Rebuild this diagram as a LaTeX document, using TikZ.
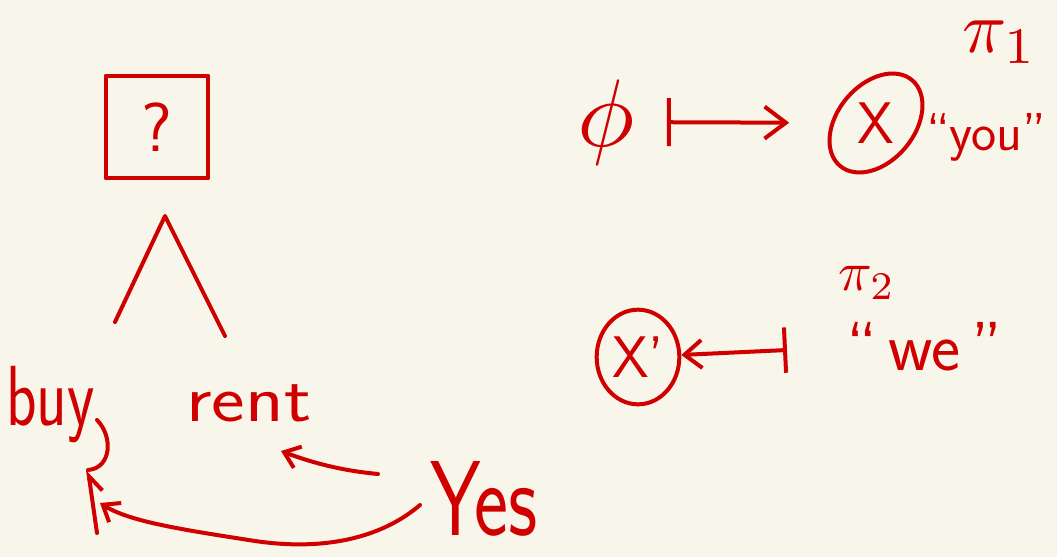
\documentclass[tikz,border=0pt]{standalone}
\usetikzlibrary{arrows.meta,shapes.geometric}
\definecolor{paper}{HTML}{F8F5EA}
\definecolor{ink}{HTML}{D00000}
\newcommand\penfont[1]{\fontsize{#1}{#1}\selectfont}
% math symbols are enlarged with \scalebox (CM math comes in fixed sizes)
\newcommand\bigmath[2]{\scalebox{#1}{$#2$}}
\begin{document}
\begin{tikzpicture}[x=0.75pt, y=-0.75pt, line cap=round, line join=round,
  pen/.style={draw=ink, line width=3pt},
  inkword/.style={text=ink, inner sep=0pt},
  ring/.style={draw=ink, line width=3pt, ellipse},
  smalltip/.style={-{Straight Barb[length=11pt,width=17pt]}},
]
% paper
\fill[paper] (0,0) rectangle (1057,557);
\useasboundingbox (0,0) rectangle (1057,557);

% ---- left: decision tree ----
\node[inkword, draw=ink, line width=3pt, minimum width=77pt, minimum height=77pt,
      font=\sffamily\penfont{52}] (query) at (157,127) {?};
\coordinate (apex)  at (165,216);
\coordinate (lleaf) at (115,322);
\coordinate (rleaf) at (225,336);
\draw[pen] (lleaf) -- (apex) -- (rleaf);

\node[inkword, anchor=base west, font=\sffamily\penfont{64}] (buy) at (6,425) {\scalebox{0.74}[1]{buy}};
\node[inkword, anchor=base west, font=\sffamily\penfont{50}] (rent) at (186,421) {\scalebox{1.2}[1]{rent}};
\node[inkword, anchor=base west, font=\sffamily\penfont{80}] (yes) at (430,535) {\scalebox{0.76}[1]{Yes}};

% hook below "buy" and its stem
\coordinate (hooktop) at (97,420);
\coordinate (hookend) at (88,470);
\coordinate (stemfoot) at (97,533);
\draw[pen] (hooktop) .. controls (113,436) and (112,468) .. (hookend);
\draw[pen, -{Straight Barb[length=12pt,width=17pt,harpoon,swap]}] (stemfoot) -- (hookend);

% "Yes" pointing at both answers
\coordinate (yesR)  at (378,474);
\coordinate (rentR) at (281,451);
\draw[pen, smalltip] (yesR) .. controls (335,470) and (305,460) .. (rentR);
\coordinate (yesB) at (420,505);
\coordinate (buyB) at (100,503);
\draw[pen, smalltip] (yesB) .. controls (385,535) and (330,552) .. (255,541)
                     .. controls (185,530) and (130,522) .. (buyB);

% ---- right: the two maps ----
\node[inkword] (phi) at (606,122) {\bigmath{7.2}{\phi}};
\node[inkword, ring, rotate=50, minimum width=84pt, minimum height=54pt,
      font=\sffamily\penfont{44}] (X) at (876,123) {\rotatebox{-50}{X}};
\draw[pen, {Bar[width=36pt]}-{Straight Barb[length=16pt,width=24pt]},
      shorten <=24pt, shorten >=31pt] (phi) -- (X);
\node[inkword, anchor=base west, font=\sffamily\penfont{40}] (you) at (926,150) {``you''};
\node[inkword] (pi1) at (1000,42) {\bigmath{5.5}{\pi_1}};

\node[inkword, ring, minimum width=62pt, minimum height=71pt,
      font=\sffamily\penfont{44}] (Xp) at (638,357) {X'};
\coordinate (wefrom) at (787,350);
\draw[pen, {Straight Barb[length=13pt,width=21pt]}-{Bar[width=34pt]}] (Xp) -- (wefrom);
\node[inkword] (pi2) at (867,283) {\bigmath{4.2}{\pi_2}};
\node[inkword, anchor=base west, font=\sffamily\penfont{52}] (we) at (846,370) {``\,we\,''};
\end{tikzpicture}
\end{document}
